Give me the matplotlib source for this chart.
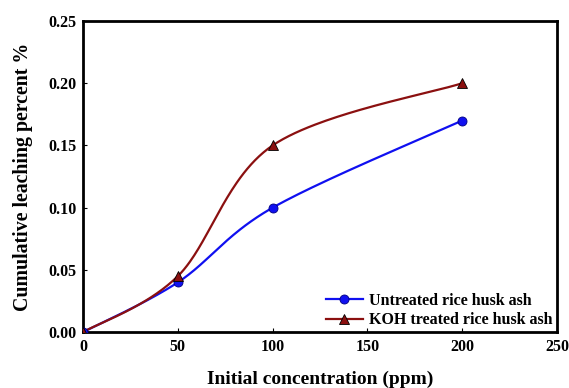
import numpy as np
import matplotlib
matplotlib.use("Agg")
import matplotlib.pyplot as plt
from matplotlib.lines import Line2D

conc = [0, 50, 100, 200]
untreated = [0.0, 0.04, 0.10, 0.17]
koh = [0.0, 0.045, 0.15, 0.20]
xticks = [0, 50, 100, 150, 200, 250]
yticks = [0.00, 0.05, 0.10, 0.15, 0.20, 0.25]

plt.rcParams['font.family'] = ['Liberation Serif', 'DejaVu Serif']
plt.rcParams['font.weight'] = 'bold'


def smooth(xs, ys, n=60):
    # Catmull-Rom style smoothing through the data points (like Excel smoothed lines)
    xs = np.asarray(xs, float)
    ys = np.asarray(ys, float)
    px = np.concatenate([[xs[0]], xs, [xs[-1]]])
    py = np.concatenate([[ys[0]], ys, [ys[-1]]])
    ox, oy = [], []
    for i in range(1, len(px) - 2):
        p0 = np.array([px[i - 1], py[i - 1]])
        p1 = np.array([px[i], py[i]])
        p2 = np.array([px[i + 1], py[i + 1]])
        p3 = np.array([px[i + 2], py[i + 2]])
        c1 = p1 + (p2 - p0) / 6.0
        c2 = p2 - (p3 - p1) / 6.0
        t = np.linspace(0, 1, n)[:, None]
        b = ((1 - t) ** 3) * p1 + 3 * ((1 - t) ** 2) * t * c1 + 3 * (1 - t) * t ** 2 * c2 + t ** 3 * p2
        ox.extend(b[:, 0])
        oy.extend(b[:, 1])
    return np.array(ox), np.array(oy)


fig = plt.figure(figsize=(5.69, 3.88), dpi=100)
ax = fig.add_axes([0.146, 0.144, 0.833, 0.802])

blue = '#1010F0'
red = '#8B1010'

sx, sy = smooth(conc, untreated)
ax.plot(sx, sy, color=blue, lw=1.6, zorder=2)
ax.plot(conc, untreated, 'o', color=blue, markersize=6.5, markeredgecolor='#000080', markeredgewidth=0.6, zorder=3)

sx, sy = smooth(conc, koh)
ax.plot(sx, sy, color=red, lw=1.6, zorder=2)
ax.plot(conc, koh, '^', color=red, markersize=7.5, markeredgecolor='black', markeredgewidth=0.6, zorder=3)

ax.set_xlim(0, 250)
ax.set_ylim(0, 0.25)
ax.set_xticks(xticks)
ax.set_xticklabels([str(v) for v in xticks])
ax.set_yticks(yticks)
ax.set_yticklabels([f"{v:.2f}" for v in yticks])
ax.tick_params(direction='in', length=3, width=0.8, labelsize=11.5, pad=5)
for s in ax.spines.values():
    s.set_linewidth(2)
    s.set_color('black')

ax.set_xlabel('Initial concentration (ppm)', fontsize=14, fontweight='bold', labelpad=11)
ax.set_ylabel('Cumulative leaching percent %', fontsize=14.3, fontweight='bold', labelpad=11)

handles = [
    Line2D([], [], color=blue, lw=1.6, marker='o', markersize=6.5, markeredgecolor='#000080', markeredgewidth=0.6),
    Line2D([], [], color=red, lw=1.6, marker='^', markersize=7.5, markeredgecolor='black', markeredgewidth=0.6),
]
ax.legend(handles, ['Untreated rice husk ash', 'KOH treated rice husk ash'], loc='lower right',
          bbox_to_anchor=(1.004, -0.008), frameon=False, fontsize=11.5, handlelength=2.3,
          borderaxespad=0.0, labelspacing=0.2, handletextpad=0.4)

fig.savefig('out.png', dpi=100)
